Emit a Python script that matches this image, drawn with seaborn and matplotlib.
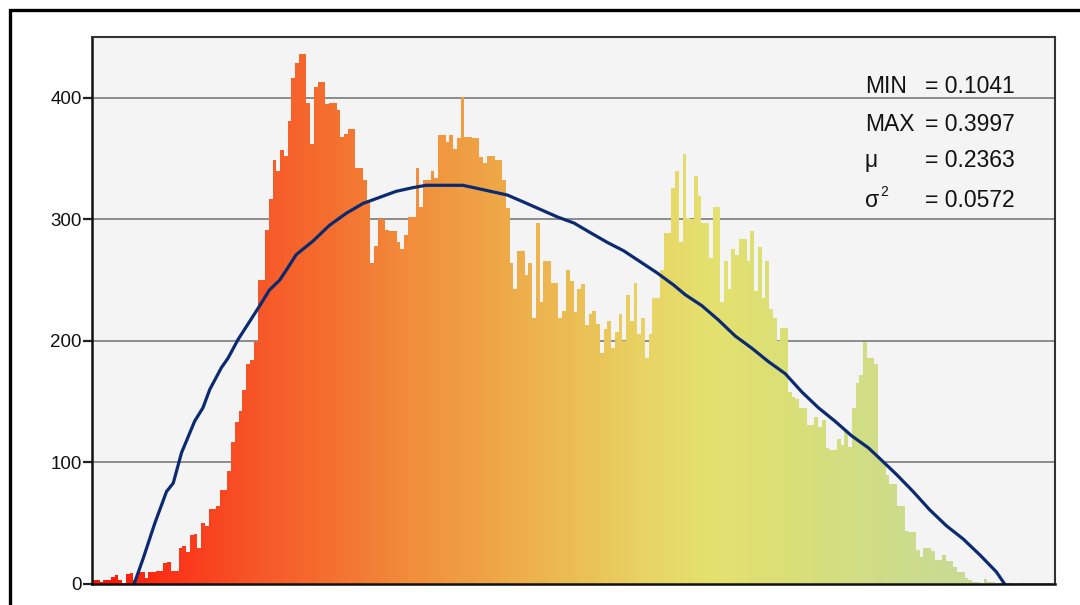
import numpy as np
import pandas as pd
import matplotlib
matplotlib.use("Agg")
import matplotlib.pyplot as plt
import seaborn as sns
from matplotlib.colors import LinearSegmentedColormap
from matplotlib.patches import Rectangle

# Histogram counts, one per bin (256 bins)
counts = [
    3, 3, 2, 3, 3, 6, 7, 3, 1, 8, 9, 3, 10, 10, 5, 10, 10, 11, 11, 17,
    18, 11, 11, 30, 31, 26, 40, 41, 30, 50, 48, 62, 62, 64, 77,
    77, 93, 117, 133, 142, 160, 181, 184, 199, 250, 250, 291, 317, 349, 340,
    357, 352, 381, 416, 429, 436, 436, 396, 362, 409, 413, 413, 395, 396, 396,
    390, 368, 370, 374, 374, 342, 342, 332, 316, 264, 278, 300, 300, 291, 290,
    290, 281, 276, 287, 302, 302, 342, 310, 332, 332, 340, 334, 369, 369, 364,
    369, 358, 367, 401, 368, 368, 367,
    367, 351, 346, 352, 352, 349, 349, 332, 309, 264, 243, 274, 274, 254, 264,
    219, 297, 232, 266, 266, 248, 248, 219, 225, 258, 249, 224, 243, 247, 213,
    222, 225, 214, 190, 210, 216, 194, 207, 222, 200, 238, 216, 248, 206, 219,
    186, 206, 235, 235, 258, 289, 289, 326,
    340, 281, 354, 301, 300, 336, 319, 297, 297, 268, 310, 310, 232, 266, 243,
    276, 271, 284, 284, 266, 290, 241, 277, 235, 266, 226, 219, 200, 211, 211,
    158, 154, 152, 145, 145, 131, 131, 137, 129, 135, 112, 110, 110, 119, 114,
    126, 113, 145, 165, 172, 199,
    186, 186, 181, 104, 100, 90, 82, 82, 64, 64, 44, 43, 43, 28, 22,
    30, 30, 27, 20, 20, 24, 19, 19, 14, 10, 10, 5, 3, 2, 2,
    1, 4, 2, 2, 1, 0, 1, 0, 0, 1, 0, 0, 0, 0, 0, 0, 0, 0, 0, 1,
]

# Fitted density curve, in bin units
curve_x = [10.7, 13.1, 16.2, 19.3, 21.1, 23.3, 26.8, 29.0, 30.8, 33.9, 35.7, 38.3,
           41.0, 44.1, 46.7, 49.4, 51.1, 53.8, 58.2, 62.6, 67.1, 71.5, 75.9, 80.3,
           84.7, 88.3, 98.0, 101.1, 105.5, 109.9, 114.4, 118.8, 123.2, 127.6,
           132.0, 136.5, 140.9, 145.3, 149.7, 154.1, 157.2, 161.6, 166.1, 170.5,
           174.9, 179.3, 183.8, 188.2, 192.6, 197.0, 201.4, 205.9, 209.0, 213.4,
           217.8, 222.2, 226.6, 231.1, 235.5, 239.9, 242.1]
curve_y = [0, 21, 50, 76, 83, 108, 134, 145, 160, 178, 186, 201,
           214, 229, 242, 250, 258, 271, 282, 295, 305, 313, 318, 323,
           326, 328, 328, 326, 323, 320, 314, 308, 302, 297,
           289, 281, 274, 265, 256, 246, 238, 229, 217, 204,
           194, 183, 173, 158, 145, 134, 122, 112, 103, 90,
           76, 61, 48, 37, 24, 10, 0]

stat_names = ["MIN", "MAX", "\u03bc", "\u03c3"]
stat_values = [0.1041, 0.3997, 0.2363, 0.0572]
y_ticks = [0, 100, 200, 300, 400]

# red -> orange -> yellow -> pale green gradient across the bins
grad = LinearSegmentedColormap.from_list("heat", [
    (0.00, "#ff1200"), (0.08, "#fb3318"), (0.17, "#f65628"), (0.25, "#f4702f"),
    (0.33, "#f18d3b"), (0.42, "#eea747"), (0.50, "#ebbd54"), (0.58, "#e7d464"),
    (0.64, "#e4e06e"), (0.72, "#dadf76"), (0.80, "#d1dd84"), (0.90, "#c8da93"),
    (1.00, "#c3d8a0")])

n = len(counts)
df = pd.DataFrame({"bin": np.arange(n), "count": counts})
palette = [grad((i + 0.5) / n) for i in range(n)]

sns.set_theme(style="white")
plt.rcParams["font.family"] = ["Liberation Sans", "DejaVu Sans"]

fig = plt.figure(figsize=(10.8, 6.05), dpi=100)
ax = fig.add_axes([92 / 1080, 21 / 605, 963 / 1080, 547 / 605])
ax.set_facecolor("#f4f4f4")

sns.barplot(data=df, x="bin", y="count", hue="bin", palette=palette,
            width=1.0, linewidth=0, saturation=1, legend=False, ax=ax)
sns.lineplot(x=curve_x, y=curve_y, color="#0b2a70", linewidth=2.3,
             estimator=None, sort=False, ax=ax)

ax.set_xlim(-0.5, n - 0.5)
ax.set_ylim(0, 450)
ax.set_xticks([])
ax.set_yticks(y_ticks)
ax.set_yticklabels([str(t) for t in y_ticks])
ax.set_xlabel("")
ax.set_ylabel("")
ax.yaxis.grid(True, color="#8c8c8c", linewidth=1.4)
ax.set_axisbelow(True)
ax.tick_params(axis="y", left=True, length=6.5, width=1.6, color="#222222",
               labelsize=13.5, pad=0.8, labelcolor="#111111")
for side in ["left", "bottom"]:
    ax.spines[side].set_color("#111111")
    ax.spines[side].set_linewidth(1.8)
for side in ["top", "right"]:
    ax.spines[side].set_color("#333333")
    ax.spines[side].set_linewidth(1.5)

# outer frame
fig.add_artist(Rectangle((10 / 1080, -0.2), 1.5, 1.2 - 10 / 605,
                         transform=fig.transFigure, fill=False,
                         edgecolor="black", linewidth=2.4))

# statistics block
baselines = [93.3, 130.7, 166.7, 206.7]
for name, val, yb in zip(stat_names, stat_values, baselines):
    fy = 1 - yb / 605
    fig.text(865 / 1080, fy, name, fontsize=16.5, ha="left", va="baseline",
             color="#111111")
    fig.text(925 / 1080, fy, f"= {val:.4f}", fontsize=16.5, ha="left",
             va="baseline", color="#111111")
    if name == "\u03c3":
        fig.text(880 / 1080, 1 - 196 / 605, "2", fontsize=10, ha="left",
                 va="baseline", color="#111111")

fig.savefig("out.png", dpi=100)
